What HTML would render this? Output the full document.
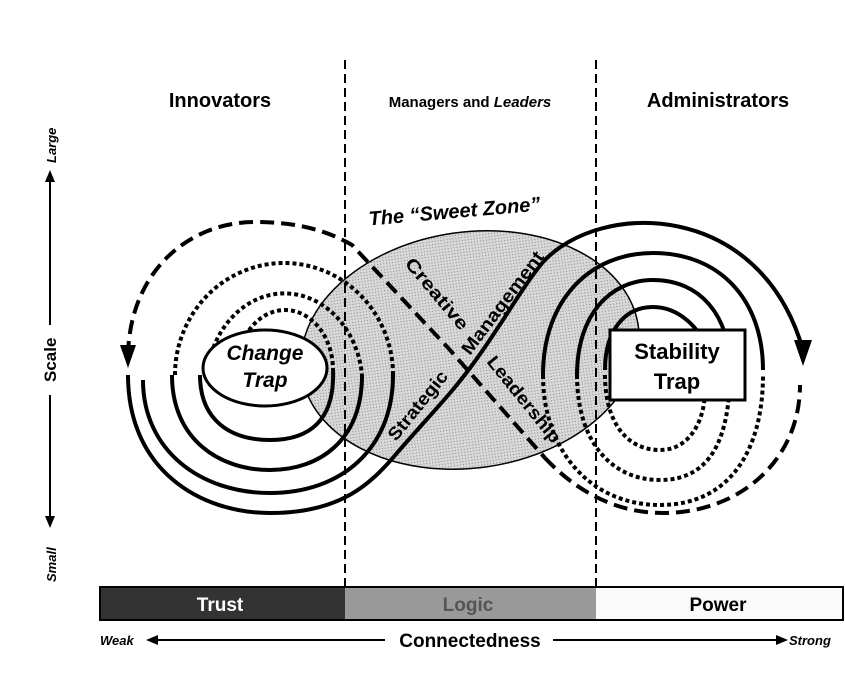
<!DOCTYPE html>
<html><head><meta charset="utf-8"><style>
html,body{margin:0;padding:0;background:#fff;}
svg{display:block;font-family:"Liberation Sans",sans-serif;}
</style></head><body>
<svg width="845" height="684" viewBox="0 0 845 684" xmlns="http://www.w3.org/2000/svg">
<defs>
<pattern id="st" width="3" height="3" patternUnits="userSpaceOnUse"><rect width="3" height="3" fill="#d8d8d8"/><rect width="1" height="1" fill="#888"/></pattern>
</defs>
<text x="220" y="107" font-size="20" font-weight="bold" text-anchor="middle">Innovators</text>
<text x="470" y="107" font-size="15" font-weight="bold" text-anchor="middle">Managers and <tspan font-style="italic">Leaders</tspan></text>
<text x="718" y="107" font-size="20" font-weight="bold" text-anchor="middle">Administrators</text>

<ellipse cx="470" cy="350" rx="170" ry="118" transform="rotate(-8 470 350)" fill="url(#st)" stroke="#000" stroke-width="1.5"/>
<text x="455" y="218" font-size="20" font-weight="bold" font-style="italic" text-anchor="middle" transform="rotate(-5 455 218)">The “Sweet Zone”</text>

<line x1="345" y1="60" x2="345" y2="590" stroke="#000" stroke-width="2" stroke-dasharray="9,5"/>
<line x1="596" y1="60" x2="596" y2="590" stroke="#000" stroke-width="2" stroke-dasharray="9,5"/>

<g fill="none" stroke="#000" stroke-width="4">
<path d="M175 375 A109 112 0 0 1 393 375" stroke-dasharray="4,3"/>
<path d="M207 375 A78 92 0 0 1 362 375" stroke-dasharray="4,3"/>
<path d="M237 370 A48 60 0 0 1 333 370" stroke-dasharray="4,3"/>
<path d="M200 375 C200 420 230 440 270 440 C310 440 335 420 333 370"/>
<path d="M172 375 C172 440 220 470 270 470 C320 470 362 440 362 375"/>
<path d="M143 380 C143 450 200 493 270 493 C340 493 393 450 393 375"/>
<path d="M128 355 C130 270 190 222 255 222 C300 222 330 232 352 245 L450 350 L545 458" stroke-dasharray="14,7"/>
<path d="M128 375 C128 470 200 513 270 513 C340 513 370 485 397 453 C430 415 450 395 470 368 C500 328 520 290 543 262 C600 200 760 200 803 350"/>
<path d="M543 375 C543 300 590 253 653 253 C720 253 763 300 763 370"/>
<path d="M577 375 C577 315 610 280 653 280 C700 280 730 315 730 370"/>
<path d="M605 370 C605 330 625 307 653 307 C680 307 700 330 705 345"/>
<path d="M543 375 C543 450 590 505 660 505 C730 505 763 450 763 375" stroke-dasharray="4,3"/>
<path d="M577 375 C577 440 610 480 660 480 C710 480 730 440 730 370" stroke-dasharray="4,3"/>
<path d="M605 375 C605 420 625 450 660 450 C690 450 705 420 705 390" stroke-dasharray="4,3"/>
<path d="M545 458 C580 495 620 513 663 513 C740 513 800 460 800 385" stroke-dasharray="14,7"/>
</g>
<polygon points="120,345 136,345 128,368" fill="#000"/>
<polygon points="794,340 812,340 803,366" fill="#000"/>

<ellipse cx="265" cy="368" rx="62" ry="38" fill="#fff" stroke="#000" stroke-width="3"/>
<text x="265" y="360" font-size="21" font-weight="bold" font-style="italic" text-anchor="middle">Change</text>
<text x="265" y="387" font-size="21" font-weight="bold" font-style="italic" text-anchor="middle">Trap</text>
<rect x="610" y="330" width="135" height="70" fill="#fff" stroke="#000" stroke-width="3"/>
<text x="677" y="359" font-size="22" font-weight="bold" text-anchor="middle">Stability</text>
<text x="677" y="389" font-size="22" font-weight="bold" text-anchor="middle">Trap</text>

<g font-size="18" font-weight="bold" fill="#000">
<text x="0" y="0" textLength="88" lengthAdjust="spacingAndGlyphs" transform="translate(404,264) rotate(50)">Creative</text>
<text x="0" y="0" textLength="106" lengthAdjust="spacingAndGlyphs" transform="translate(486,362) rotate(51)">Leadership</text>
<text x="0" y="0" textLength="84" lengthAdjust="spacingAndGlyphs" transform="translate(396,442) rotate(-51)">Strategic</text>
<text x="0" y="0" textLength="124" lengthAdjust="spacingAndGlyphs" transform="translate(470,356) rotate(-53)">Management</text>
</g>

<g font-weight="bold">
<text transform="translate(56,163) rotate(-90)" font-size="13" font-style="italic">Large</text>
<line x1="50" y1="178" x2="50" y2="325" stroke="#000" stroke-width="2"/>
<polygon points="45,182 55,182 50,170" fill="#000"/>
<text transform="translate(56,382) rotate(-90)" font-size="17">Scale</text>
<line x1="50" y1="395" x2="50" y2="520" stroke="#000" stroke-width="2"/>
<polygon points="45,516 55,516 50,528" fill="#000"/>
<text transform="translate(56,582) rotate(-90)" font-size="13" font-style="italic">Small</text>
</g>

<rect x="100" y="587" width="245" height="33" fill="#333"/>
<rect x="345" y="587" width="251" height="33" fill="#999"/>
<rect x="596" y="587" width="247" height="33" fill="#fafafa"/>
<rect x="100" y="587" width="743" height="33" fill="none" stroke="#000" stroke-width="2"/>
<text x="220" y="611" font-size="19" font-weight="bold" fill="#fff" text-anchor="middle">Trust</text>
<text x="468" y="611" font-size="19" font-weight="bold" fill="#555" text-anchor="middle">Logic</text>
<text x="718" y="611" font-size="19" font-weight="bold" fill="#000" text-anchor="middle">Power</text>

<text x="100" y="645" font-size="13" font-weight="bold" font-style="italic">Weak</text>
<polygon points="146,640 158,635 158,645" fill="#000"/>
<line x1="156" y1="640" x2="385" y2="640" stroke="#000" stroke-width="2"/>
<text x="470" y="647" font-size="19" font-weight="bold" text-anchor="middle">Connectedness</text>
<line x1="553" y1="640" x2="778" y2="640" stroke="#000" stroke-width="2"/>
<polygon points="788,640 776,635 776,645" fill="#000"/>
<text x="789" y="645" font-size="13" font-weight="bold" font-style="italic">Strong</text>
</svg>
</body></html>
